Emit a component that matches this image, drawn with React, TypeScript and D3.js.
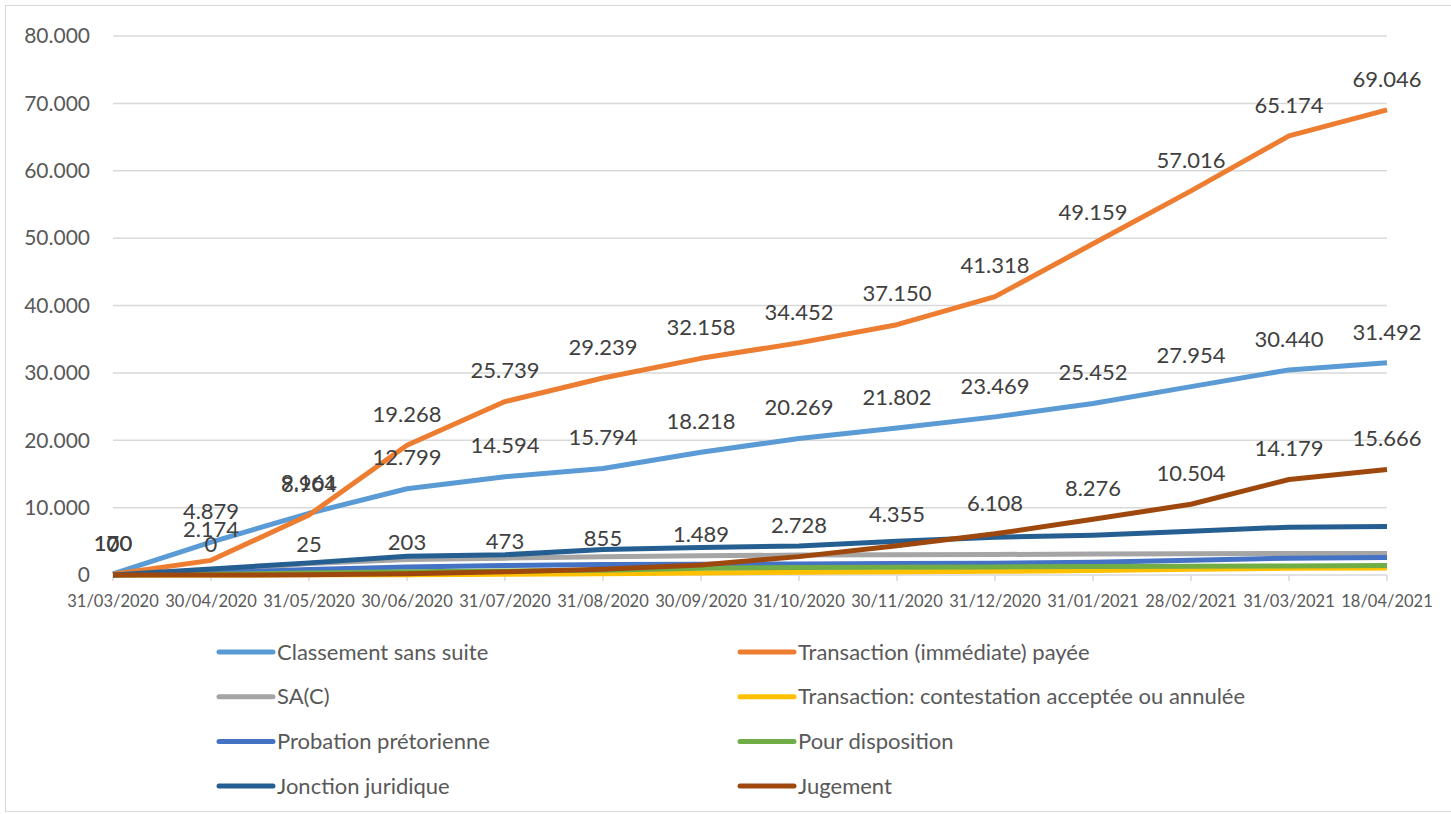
import { useEffect, useRef } from "react";
import * as d3 from "d3";

const dates = [
  "31/03/2020", "30/04/2020", "31/05/2020", "30/06/2020", "31/07/2020", "31/08/2020", "30/09/2020",
  "31/10/2020", "30/11/2020", "31/12/2020", "31/01/2021", "28/02/2021", "31/03/2021", "18/04/2021",
];

const classement = [170, 4879, 9161, 12799, 14594, 15794, 18218, 20269, 21802, 23469, 25452, 27954, 30440, 31492];
const transaction = [100, 2174, 8904, 19268, 25739, 29239, 32158, 34452, 37150, 41318, 49159, 57016, 65174, 69046];
const sac = [0, 600, 1700, 2300, 2500, 2700, 2850, 2950, 3000, 3050, 3100, 3150, 3200, 3200];
const contestation = [0, 0, 20, 50, 100, 200, 300, 400, 500, 550, 650, 850, 1000, 1050];
const probation = [0, 300, 800, 1200, 1400, 1550, 1600, 1650, 1700, 1750, 1900, 2200, 2500, 2600];
const disposition = [0, 100, 300, 500, 600, 700, 1000, 1100, 1150, 1200, 1250, 1300, 1350, 1400];
const jonction = [0, 900, 1800, 2800, 3000, 3800, 4100, 4300, 5000, 5600, 5900, 6500, 7100, 7200];
const jugement = [0, 0, 25, 203, 473, 855, 1489, 2728, 4355, 6108, 8276, 10504, 14179, 15666];

const yTicks = [0, 10000, 20000, 30000, 40000, 50000, 60000, 70000, 80000];

const series = [
  { name: "Classement sans suite", values: classement, color: "#5B9BD5", labels: true },
  { name: "Transaction (immédiate) payée", values: transaction, color: "#ED7D31", labels: true },
  { name: "SA(C)", values: sac, color: "#A5A5A5", labels: false },
  { name: "Transaction: contestation acceptée ou annulée", values: contestation, color: "#FFC000", labels: false },
  { name: "Probation prétorienne", values: probation, color: "#4472C4", labels: false },
  { name: "Pour disposition", values: disposition, color: "#70AD47", labels: false },
  { name: "Jonction juridique", values: jonction, color: "#255E91", labels: false },
  { name: "Jugement", values: jugement, color: "#9E480E", labels: true },
];

const fmt = d3.formatLocale({ decimal: ",", thousands: ".", grouping: [3], currency: ["", "€"] }).format(",d");

const W = 1451;
const H = 814;
const FONT = "Lato, 'Open Sans', sans-serif";

export default function App() {
  const svgRef = useRef<SVGSVGElement | null>(null);

  useEffect(() => {
    if (!svgRef.current) return;
    const svg = d3.select(svgRef.current);
    svg.selectAll("*").remove();

    const x = d3.scalePoint().domain(dates).range([113, 1387]);
    const y = d3.scaleLinear().domain([0, 80000]).range([575, 36]);

    // frame
    svg.append("rect")
      .attr("x", 5.5).attr("y", 5.5)
      .attr("width", W + 20).attr("height", 806)
      .attr("fill", "#fff")
      .attr("stroke", "#D9D9D9");

    // gridlines + y labels
    const grid = svg.append("g");
    yTicks.forEach(t => {
      grid.append("line")
        .attr("x1", 113).attr("x2", 1387)
        .attr("y1", y(t)).attr("y2", y(t))
        .attr("stroke", "#D9D9D9").attr("stroke-width", 1.5);
      grid.append("text")
        .attr("x", 90).attr("y", y(t))
        .attr("dy", "0.35em")
        .attr("text-anchor", "end")
        .attr("font-family", FONT).attr("font-size", 21)
        .attr("fill", "#595959")
        .text(fmt(t));
    });

    // x axis ticks + labels
    dates.forEach(d => {
      const xp = x(d) || 0;
      svg.append("line")
        .attr("x1", xp).attr("x2", xp)
        .attr("y1", 575).attr("y2", 581)
        .attr("stroke", "#D9D9D9").attr("stroke-width", 1.5);
      svg.append("text")
        .attr("x", xp).attr("y", 601)
        .attr("dy", "0.35em")
        .attr("text-anchor", "middle")
        .attr("font-family", FONT).attr("font-size", 16.5)
        .attr("fill", "#595959")
        .text(d);
    });

    // lines
    const line = d3.line<number>()
      .x((_, i) => x(dates[i]) || 0)
      .y(v => y(v));

    series.forEach(s => {
      svg.append("path")
        .datum(s.values)
        .attr("fill", "none")
        .attr("stroke", s.color)
        .attr("stroke-width", 5)
        .attr("stroke-linejoin", "round")
        .attr("d", line);
    });

    // data labels
    series.filter(s => s.labels).forEach(s => {
      s.values.forEach((v, i) => {
        svg.append("text")
          .attr("x", x(dates[i]) || 0)
          .attr("y", y(v) - 31)
          .attr("dy", "0.35em")
          .attr("text-anchor", "middle")
          .attr("font-family", FONT).attr("font-size", 22)
          .attr("fill", "#404040")
          .text(fmt(v));
      });
    });

    // legend
    const legend = svg.append("g");
    series.forEach((s, i) => {
      const col = i % 2;
      const row = Math.floor(i / 2);
      const lx = col === 0 ? 219 : 740;
      const ly = 652 + row * 44.7;
      legend.append("line")
        .attr("x1", lx).attr("x2", lx + 54)
        .attr("y1", ly).attr("y2", ly)
        .attr("stroke", s.color)
        .attr("stroke-width", 5)
        .attr("stroke-linecap", "round");
      legend.append("text")
        .attr("x", lx + 58).attr("y", ly)
        .attr("dy", "0.35em")
        .attr("font-family", FONT).attr("font-size", 22)
        .attr("fill", "#595959")
        .text(s.name);
    });
  }, []);

  return (
    <svg
      ref={svgRef}
      width={W}
      height={H}
      style={{ position: "absolute", left: 0, top: 0, background: "#fff" }}
    />
  );
}
